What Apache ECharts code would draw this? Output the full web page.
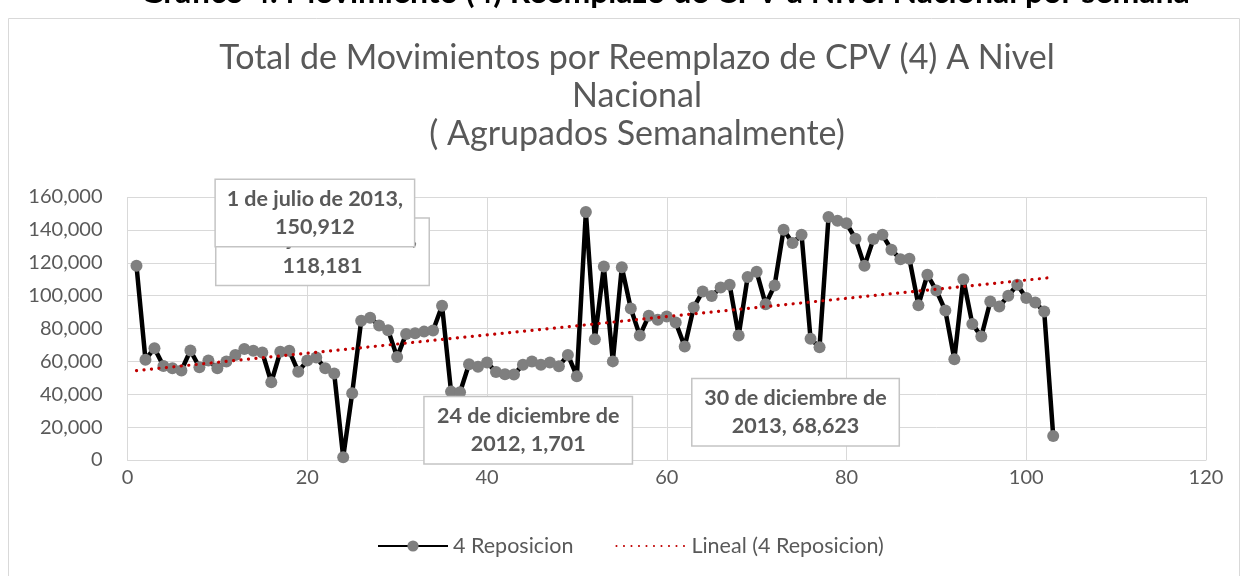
<!DOCTYPE html>
<html>
<head>
<meta charset="utf-8">
<style>
  html, body { margin: 0; padding: 0; background: #ffffff; }
  #chart { width: 1249px; height: 576px; }
</style>
<script src="https://cdn.jsdelivr.net/npm/echarts@6/dist/echarts.min.js"></script>
</head>
<body>
<div id="chart"></div>
<script>
// Movimientos semanales por reemplazo de CPV (4), semana 1 = 16 de julio de 2012
const valores = [
  118181, 61000, 68000, 57200, 55800, 54500, 66600, 56400, 60500, 55800,
  59900, 63900, 67500, 66500, 65400, 47300, 65800, 66400, 53700, 60500,
  62300, 55800, 52600, 1701, 40600, 84700, 86500, 81800, 79000, 62600,
  76700, 77100, 78100, 78800, 93800, 41600, 41200, 58300, 56800, 59300,
  53600, 52100, 52000, 57900, 59900, 57900, 59300, 57000, 63900, 51000,
  150912, 73500, 117700, 60000, 117300, 92200, 75700, 87700, 85300, 87300,
  83600, 69000, 92800, 102500, 99700, 105000, 106600, 75700, 111300, 114500,
  94800, 106200, 140100, 132000, 137000, 73700, 68623, 147800, 145600, 144000,
  134600, 118100, 134400, 137000, 127900, 122200, 122400, 94200, 112700, 103100,
  90900, 61300, 110000, 82800, 75100, 96400, 93400, 99900, 106600, 98500,
  95800, 90300, 14600
];

// Semanas destacadas con su fecha (texto de la etiqueta antes del valor)
const semanasDestacadas = [1, 51, 24, 77];
const fechasDestacadas = [
  '16 de julio de 2012,\n',
  '1 de julio de 2013,\n',
  '24 de diciembre de\n2012, ',
  '30 de diciembre de\n2013, '
];
// desplazamiento de cada cuadro respecto a su punto, y ancho del cuadro
const desplazamientos = [[186, -14], [-271, 1], [185, -27], [-24, 65]];
const anchosCuadro = [212, 198, 207, 206];

const ticksY = [0, 20000, 40000, 60000, 80000, 100000, 120000, 140000, 160000];
const ticksX = [0, 20, 40, 60, 80, 100, 120];

const nombreSerie = '4 Reposicion';
const nombreTendencia = 'Lineal (4 Reposicion)';

const fmt = v => v.toLocaleString('en-US');
const semanas = valores.map((_, i) => i + 1);

// Tendencia lineal por mínimos cuadrados
function tendenciaLineal(xs, ys) {
  const n = xs.length;
  let sx = 0, sy = 0, sxx = 0, sxy = 0;
  for (let i = 0; i < n; i++) {
    sx += xs[i]; sy += ys[i]; sxx += xs[i] * xs[i]; sxy += xs[i] * ys[i];
  }
  const b = (n * sxy - sx * sy) / (n * sxx - sx * sx);
  const a = (sy - b * sx) / n;
  const x0 = xs[0], x1 = xs[n - 1];
  return [[x0, a + b * x0], [x1, a + b * x1]];
}

const gris = '#595959';
const fuente = 'Lato, "Open Sans", sans-serif';

const puntos = semanas.map((x, i) => {
  const k = semanasDestacadas.indexOf(x);
  if (k < 0) return [x, valores[i]];
  return {
    value: [x, valores[i]],
    label: {
      show: true,
      position: 'inside',
      formatter: fechasDestacadas[k] + fmt(valores[i]),
      width: anchosCuadro[k] - 12,
      align: 'center',
      verticalAlign: 'middle',
      lineHeight: 28,
      padding: [5, 6],
      fontFamily: fuente,
      fontSize: 21.5,
      fontWeight: 'bold',
      color: gris,
      backgroundColor: '#ffffff',
      borderColor: '#c4c4c4',
      borderWidth: 1.5
    }
  };
});

const chart = echarts.init(document.getElementById('chart'), null, { renderer: 'canvas' });

chart.setOption({
  animation: false,
  backgroundColor: '#ffffff',
  graphic: [{
    type: 'rect',
    shape: { x: 8.5, y: 18.5, width: 1231, height: 600 },
    style: { fill: 'none', stroke: '#d9d9d9', lineWidth: 1 },
    z: -1
  }],
  title: [{
    text: 'Grafico 4. Movimiento (4) Reemplazo de CPV a Nivel Nacional por semana',
    left: 660,
    top: -28,
    textAlign: 'center',
    textStyle: { fontFamily: fuente, fontSize: 32, fontWeight: 'bold', color: '#000000', lineHeight: 32 }
  }, {
    text: 'Total de Movimientos por Reemplazo de CPV (4) A Nivel\nNacional\n( Agrupados Semanalmente)',
    left: 632,
    top: 34,
    textAlign: 'center',
    textStyle: { fontFamily: fuente, fontSize: 34, fontWeight: 'normal', color: gris, lineHeight: 38 }
  }],
  legend: {
    left: 377,
    top: 535,
    padding: 0,
    itemWidth: 70,
    itemHeight: 14,
    itemGap: 42,
    textStyle: { fontFamily: fuente, fontSize: 21.5, color: gris },
    data: [
      { name: nombreSerie },
      { name: nombreTendencia, itemStyle: { opacity: 0 } }
    ]
  },
  grid: { left: 127.5, right: 43, top: 197, bottom: 116, containLabel: false },
  xAxis: {
    type: 'value',
    min: ticksX[0],
    max: ticksX[ticksX.length - 1],
    interval: ticksX[1] - ticksX[0],
    axisLine: { show: true, lineStyle: { color: '#d9d9d9', width: 1 } },
    axisTick: { show: false },
    splitLine: { show: true, lineStyle: { color: '#d9d9d9', width: 1 } },
    axisLabel: { fontFamily: fuente, fontSize: 20, color: gris, margin: 8 }
  },
  yAxis: {
    type: 'value',
    min: ticksY[0],
    max: ticksY[ticksY.length - 1],
    interval: ticksY[1] - ticksY[0],
    axisLine: { show: false },
    axisTick: { show: false },
    splitLine: { show: true, lineStyle: { color: '#d9d9d9', width: 1 } },
    axisLabel: { fontFamily: fuente, fontSize: 20, color: gris, margin: 25, formatter: v => fmt(v) }
  },
  series: [{
    name: nombreSerie,
    type: 'line',
    data: puntos,
    symbol: 'circle',
    symbolSize: 12,
    showAllSymbol: true,
    lineStyle: { color: '#000000', width: 4.5 },
    itemStyle: { color: '#7f7f7f', borderWidth: 0 },
    emphasis: { disabled: true },
    labelLayout: p => {
      const k = semanasDestacadas.indexOf(p.dataIndex + 1);
      if (k < 0) return {};
      return { dx: desplazamientos[k][0], dy: desplazamientos[k][1], hideOverlap: false };
    },
    z: 3
  }, {
    name: nombreTendencia,
    type: 'line',
    data: tendenciaLineal(semanas, valores),
    symbol: 'none',
    lineStyle: { color: '#c00000', width: 3.2, type: [0.1, 7.4], cap: 'round' },
    itemStyle: { color: '#c00000' },
    emphasis: { disabled: true },
    z: 4
  }]
});
</script>
</body>
</html>
